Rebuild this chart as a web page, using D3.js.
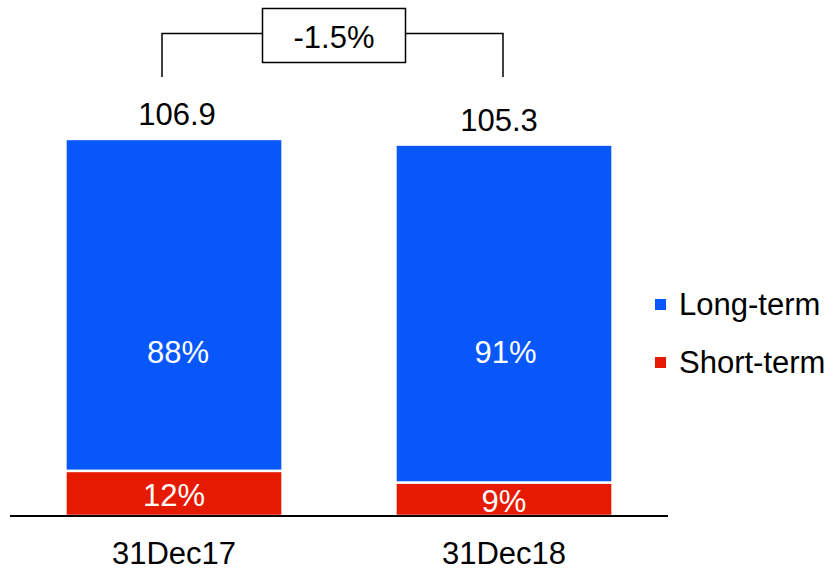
<!DOCTYPE html>
<html>
<head>
<meta charset="utf-8">
<script src="https://cdn.jsdelivr.net/npm/d3@7"></script>
<style>
  html, body { margin: 0; padding: 0; background: #fff; }
  svg { display: block; }
  text { font-family: "Liberation Sans", Arial, sans-serif; }
</style>
</head>
<body>
<svg id="chart" width="833" height="571"></svg>
<script>
const categories = ["31Dec17", "31Dec18"];
const longTerm = [94.1, 95.8];
const shortTerm = [12.8, 9.5];
const seriesNames = ["Long-term", "Short-term"];
const colors = ["#0757FB", "#E61A00"];

const svg = d3.select("#chart");
const fontSize = 31;

const x = d3.scaleBand().domain(categories).range([10, 668]).paddingInner(0.342).paddingOuter(0.168);
const y = d3.scaleLinear().domain([0, 110]).range([516, 128]);

const data = categories.map((c, i) => ({
  cat: c, st: shortTerm[i], lt: longTerm[i], total: shortTerm[i] + longTerm[i]
}));

const g = svg.append("g");

// short-term (bottom)
g.selectAll("rect.st").data(data).join("rect")
  .attr("class", "st")
  .attr("x", d => x(d.cat))
  .attr("width", x.bandwidth())
  .attr("y", d => y(d.st))
  .attr("height", d => y(0) - y(d.st))
  .attr("fill", colors[1])
  .attr("stroke", "#fff").attr("stroke-width", 2.5);

// long-term (top)
g.selectAll("rect.lt").data(data).join("rect")
  .attr("class", "lt")
  .attr("x", d => x(d.cat))
  .attr("width", x.bandwidth())
  .attr("y", d => y(d.total))
  .attr("height", d => y(d.st) - y(d.total))
  .attr("fill", colors[0])
  .attr("stroke", "#fff").attr("stroke-width", 2.5);

// baseline
svg.append("line")
  .attr("x1", x.range()[0]).attr("x2", x.range()[1])
  .attr("y1", y(0)).attr("y2", y(0))
  .attr("stroke", "#000").attr("stroke-width", 2);

const cx = d => x(d.cat) + x.bandwidth() / 2;

// inner percentage labels (long-term labels share one height)
g.selectAll("text.ltp").data(data).join("text")
  .attr("x", (d, i) => cx(d) + (i === 0 ? 4 : 1.5))
  .attr("y", y(46.5))
  .attr("dy", "0.36em")
  .attr("text-anchor", "middle")
  .attr("fill", "#fff").attr("font-size", fontSize)
  .text(d => Math.round(d.lt / d.total * 100) + "%");

g.selectAll("text.stp").data(data).join("text")
  .attr("x", cx)
  .attr("y", d => (y(d.st) + y(0)) / 2 + 1.5)
  .attr("dy", "0.36em")
  .attr("text-anchor", "middle")
  .attr("fill", "#fff").attr("font-size", fontSize)
  .text(d => Math.round(d.st / d.total * 100) + "%");

// totals
g.selectAll("text.tot").data(data).join("text")
  .attr("x", (d, i) => cx(d) + (i === 0 ? 3 : -5))
  .attr("y", d => y(d.total) - 14)
  .attr("text-anchor", "middle")
  .attr("fill", "#000").attr("font-size", fontSize)
  .text(d => d.total.toFixed(1));

// category labels
svg.append("g").selectAll("text").data(data).join("text")
  .attr("x", cx)
  .attr("y", y(0) + 48)
  .attr("text-anchor", "middle")
  .attr("fill", "#000").attr("font-size", fontSize)
  .text(d => d.cat);

// change bracket
const change = (data[1].total - data[0].total) / data[0].total * 100;
const lx = cx(data[0]) - 12, rx = cx(data[1]) - 1;
const topY = 33.5, botY = 77;
const boxW = 143, boxH = 54, boxCx = (lx + rx) / 2 + 1.5, boxY = 8.5;
const bg = svg.append("g").attr("fill", "none").attr("stroke", "#000").attr("stroke-width", 1.5);
bg.append("path").attr("d", `M${lx},${botY}V${topY}H${boxCx - boxW/2}`);
bg.append("path").attr("d", `M${rx},${botY}V${topY}H${boxCx + boxW/2}`);
bg.append("rect").attr("x", boxCx - boxW/2).attr("y", boxY).attr("width", boxW).attr("height", boxH).attr("fill", "#fff");
svg.append("text")
  .attr("x", boxCx).attr("y", boxY + boxH/2 + 1).attr("dy", "0.36em")
  .attr("text-anchor", "middle").attr("font-size", fontSize).attr("fill", "#000")
  .text(change.toFixed(1) + "%");

// legend
const leg = svg.append("g").attr("transform", "translate(655,299)");
seriesNames.forEach((n, i) => {
  const r = leg.append("g").attr("transform", `translate(0,${i * 58})`);
  r.append("rect").attr("width", 11).attr("height", 11).attr("fill", colors[i]);
  r.append("text").attr("x", 24).attr("y", 16).attr("font-size", fontSize).attr("fill", "#000").text(n);
});
</script>
</body>
</html>
